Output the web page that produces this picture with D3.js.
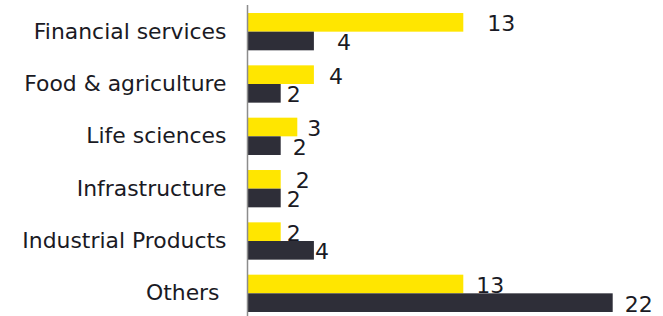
<!DOCTYPE html>
<html lang="en">
<head>
<meta charset="UTF-8">
<title>Deals by sector</title>
<script src="https://d3js.org/d3.v7.min.js"></script>
<style>
  html, body { margin: 0; padding: 0; background: #fff; }
  svg text { font-family: "DejaVu Sans", sans-serif; fill: #1a1a24; }
  .cat { font-size: 21.9px; white-space: pre; }
  .val { font-size: 22px; }
</style>
</head>
<body>
<svg width="663" height="316"></svg>
<script>
// sectors, top to bottom
var categories = ['Financial services', 'Food & agriculture', 'Life sciences',
                  'Infrastructure', 'Industrial Products', 'Others '];
// yellow bars (upper) and dark bars (lower)
var yellowValues = [13, 4, 3, 2, 2, 13];
var darkValues   = [4, 2, 2, 2, 4, 22];

// labels were moved around by hand in the original, keep their nudges apart
var yellowNudge = [18, 9, 4, 9, 0, 7];
var darkNudge   = [17, 0, 6, 0, -5, 6];

var svg = d3.select('svg'),
    width = +svg.attr('width'),
    height = +svg.attr('height');

var axisX = 247.5;

var x = d3.scaleLinear()
    .domain([0, 22])
    .range([axisX, 612.7]);

var y = d3.scaleBand()
    .domain(categories)
    .range([5.5, 319.5])
    .paddingInner(0.287)
    .paddingOuter(0.1435);

var sub = d3.scaleBand()
    .domain(['yellow', 'dark'])
    .range([0, y.bandwidth()]);

var series = [
  { key: 'yellow', values: yellowValues, nudge: yellowNudge, color: '#FFE600' },
  { key: 'dark',   values: darkValues,   nudge: darkNudge,   color: '#2E2E38' }
];

series.forEach(function(s) {
  var g = svg.append('g').attr('class', 'series-' + s.key);

  g.selectAll('rect')
    .data(categories)
    .enter().append('rect')
    .attr('x', x(0))
    .attr('y', function(d) { return y(d) + sub(s.key); })
    .attr('width', function(d, i) { return x(s.values[i]) - x(0); })
    .attr('height', sub.bandwidth())
    .attr('fill', s.color);

  g.selectAll('text')
    .data(categories)
    .enter().append('text')
    .attr('class', 'val')
    .attr('x', function(d, i) { return x(s.values[i]) + 6 + s.nudge[i]; })
    .attr('y', function(d) { return y(d) + sub(s.key) + sub.bandwidth() / 2 + 1; })
    .attr('dy', '0.36em')
    .text(function(d, i) { return s.values[i]; });
});

// category axis on the left
var yAxis = d3.axisLeft(y).tickSize(0).tickPadding(21);
var ax = svg.append('g')
    .attr('transform', 'translate(' + axisX + ',0)')
    .call(yAxis);
ax.select('.domain').remove();
ax.selectAll('text')
    .attr('class', 'cat')
    .attr('fill', null)
    .attr('font-family', null)
    .attr('font-size', null);

svg.append('line')
    .attr('x1', axisX).attr('x2', axisX)
    .attr('y1', 5).attr('y2', height)
    .attr('stroke', '#8c8c8c')
    .attr('stroke-width', 1.5);
</script>
</body>
</html>
